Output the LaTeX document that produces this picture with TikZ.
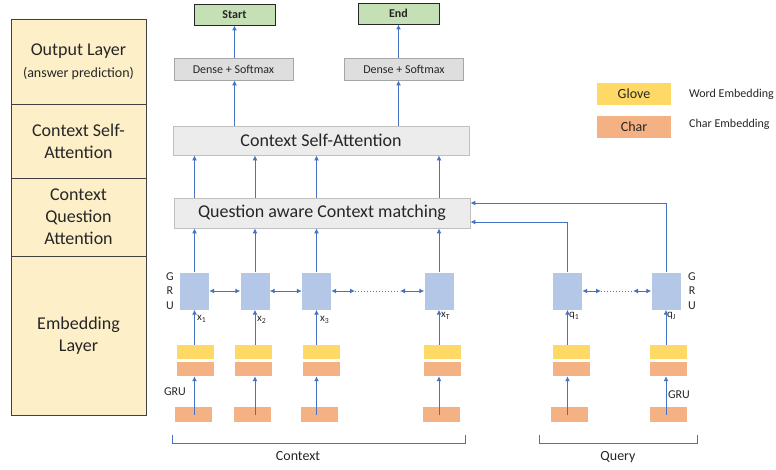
\documentclass[tikz,border=0pt]{standalone}
\usepackage{fontspec}
\setmainfont{Carlito}
\usetikzlibrary{arrows.meta}
\definecolor{layerfill}{RGB}{253,240,200}
\definecolor{layerline}{RGB}{64,64,64}
\definecolor{outfill}{RGB}{197,224,180}
\definecolor{densefill}{RGB}{222,222,222}
\definecolor{denseline}{RGB}{166,166,166}
\definecolor{attfill}{RGB}{236,236,236}
\definecolor{attline}{RGB}{191,191,191}
\definecolor{grufill}{RGB}{180,199,231}
\definecolor{glovefill}{RGB}{255,217,102}
\definecolor{charfill}{RGB}{244,177,131}
\definecolor{flow}{RGB}{68,114,196}
\definecolor{ink}{RGB}{38,38,38}
\begin{document}
\begin{tikzpicture}[x=1pt,y=-1pt,every node/.style={text=ink},
  layer/.style={draw=layerline,line width=0.9pt,fill=layerfill,minimum width=135pt,inner sep=0pt,align=center,font=\fontsize{18}{22}\selectfont},
  outbox/.style={draw=black!85,line width=0.9pt,fill=outfill,minimum width=81pt,minimum height=21pt,inner sep=0pt,font=\bfseries\fontsize{12}{14}\selectfont},
  densebox/.style={draw=denseline,line width=0.8pt,fill=densefill,minimum width=119pt,minimum height=22pt,inner sep=0pt,font=\fontsize{12}{14}\selectfont},
  attbox/.style={draw=attline,line width=0.8pt,fill=attfill,minimum width=296pt,minimum height=30pt,inner sep=0pt,font=\fontsize{18}{22}\selectfont},
  grubox/.style={fill=grufill,minimum width=29pt,minimum height=37pt,inner sep=0pt},
  glovebox/.style={fill=glovefill,minimum width=37pt,minimum height=14pt,inner sep=0pt},
  charbox/.style={fill=charfill,minimum width=37pt,minimum height=14pt,inner sep=0pt},
  flowline/.style={draw=flow,line width=1pt},
  arr/.style={flowline,-{Latex[length=5pt,width=5pt]}},
  biarr/.style={flowline,{Latex[length=5pt,width=5pt]}-{Latex[length=5pt,width=5pt]}},
  tag/.style={font=\fontsize{12}{14.5}\selectfont,inner sep=0pt,align=center},
  sub/.style={font=\fontsize{11}{13}\selectfont,inner sep=0pt,anchor=north west},
  big/.style={font=\fontsize{14}{16}\selectfont,inner sep=0pt}]
\useasboundingbox (0,0) rectangle (776,469);
% layers on the left
\node[layer,minimum height=85pt] (lout) at (78.5,61.5) {Output Layer\\{\fontsize{14}{17}\selectfont(answer prediction)}};
\node[layer,minimum height=74pt] (lself) at (78.5,141) {Context Self-\\Attention};
\node[layer,minimum height=78pt] (lqa) at (78.5,217) {Context\\Question\\Attention};
\node[layer,minimum height=159pt] (lemb) at (78.5,335.5) {Embedding\\Layer};
% output
\node[outbox] (start) at (234.5,14.5) {Start};
\node[outbox] (end) at (398.5,13.5) {End};
\node[densebox] (dense1) at (233.5,69) {Dense + Softmax};
\node[densebox] (dense2) at (404,69) {Dense + Softmax};
\node[attbox,minimum height=29pt] (sa) at (321,140.5) {Context Self-Attention};
\node[attbox] (qa) at (322,213) {Question aware Context matching};
% gru cells
\node[grubox] (gru1) at (194.5,291) {};
\node[grubox] (gru2) at (255,291) {};
\node[grubox] (gru3) at (316.5,291) {};
\node[grubox] (gru4) at (439,291) {};
\node[grubox] (gq1) at (567.5,291) {};
\node[grubox] (gq2) at (666,291) {};
% embeddings
\node[glovebox] (glv1) at (195,352) {};
\node[glovebox] (glv2) at (253.5,352) {};
\node[glovebox] (glv3) at (321,352) {};
\node[glovebox] (glv4) at (442.5,352) {};
\node[glovebox] (glq1) at (571,352) {};
\node[glovebox] (glq2) at (668.5,352) {};
\node[charbox] (chr1) at (195,369) {};
\node[charbox] (chr2) at (253.5,369) {};
\node[charbox] (chr3) at (321,369) {};
\node[charbox] (chr4) at (442.5,369) {};
\node[charbox] (chq1) at (571,369) {};
\node[charbox] (chq2) at (668.5,369) {};
\node[charbox,minimum height=15pt] (tok1) at (193.5,414.5) {};
\node[charbox,minimum height=15pt] (tok2) at (252.5,414.5) {};
\node[charbox,minimum height=15pt] (tok3) at (319.5,414.5) {};
\node[charbox,minimum height=15pt] (tok4) at (441.5,414.5) {};
\node[charbox,minimum height=15pt] (tokq1) at (569.5,414.5) {};
\node[charbox,minimum height=15pt] (tokq2) at (668.5,414.5) {};
% labels
\node[tag] (gl1) at (170,291) {G\\R\\U};
\node[tag] (gl2) at (692,291) {G\\R\\U};
\node[tag] (gc1) at (175,392) {GRU};
\node[tag] (gc2) at (679,395) {GRU};
\node[sub] (x1) at (197,315) {x\textsubscript{1}};
\node[sub] (x2) at (257,316) {x\textsubscript{2}};
\node[sub] (x3) at (320,316) {x\textsubscript{3}};
\node[sub] (xT) at (441,312) {x\textsubscript{T}};
\node[sub] (q1) at (569,312) {q\textsubscript{1}};
\node[sub] (qJ) at (667,312) {q\textsubscript{J}};
% legend
\node[glovebox,big,minimum width=74pt,minimum height=22pt] (lglove) at (634,94) {Glove};
\node[charbox,big,minimum width=74pt,minimum height=22pt] (lchar) at (634,127) {Char};
\node[tag,anchor=west] (lword) at (689,94) {Word Embedding};
\node[tag,anchor=west] (lcemb) at (689,124) {Char Embedding};
% dotted gaps
\coordinate (dc1) at (355,291);
\coordinate (dc2) at (400,291);
\coordinate (dq1) at (601,291);
\coordinate (dq2) at (633,291);
% connectors
\draw[arr] (dense1.north -| start) -- (start.south);
\draw[arr] (dense2.north -| end) -- (end.south);
\draw[arr] (sa.north -| start) -- (dense1.south -| start);
\draw[arr] (sa.north -| end) -- (dense2.south -| end);
\draw[arr] (qa.north -| gru1) -- (sa.south -| gru1);
\draw[arr] (qa.north -| gru2) -- (sa.south -| gru2);
\draw[arr] (qa.north -| gru3) -- (sa.south -| gru3);
\draw[arr] (qa.north -| gru4) -- (sa.south -| gru4);
\draw[arr] (gru1.north) -- (qa.south -| gru1);
\draw[arr] (gru2.north) -- (qa.south -| gru2);
\draw[arr] (gru3.north) -- (qa.south -| gru3);
\draw[arr] (gru4.north) -- (qa.south -| gru4);
\draw[arr] (gq1.north) |- ([yshift=-9pt]qa.east);
\draw[arr] (gq2.north) |- ([yshift=10pt]qa.east);
\draw[biarr] (gru1.east) -- (gru2.west);
\draw[biarr] (gru2.east) -- (gru3.west);
\draw[biarr] (gru3.east) -- (dc1);
\draw[flowline,dotted,line width=1pt] (dc1) -- (dc2);
\draw[biarr] (dc2) -- (gru4.west);
\draw[biarr] (gq1.east) -- (dq1);
\draw[flowline,dotted,line width=1pt] (dq1) -- (dq2);
\draw[biarr] (dq2) -- (gq2.west);
\draw[arr] (glv1.north -| gru1) -- (gru1.south);
\draw[arr] (glv2.north -| gru2) -- (gru2.south);
\draw[arr] (glv3.north -| gru3) -- (gru3.south);
\draw[arr] (glv4.north -| gru4) -- (gru4.south);
\draw[arr] (glq1.north -| gq1) -- (gq1.south);
\draw[arr] (glq2.north -| gq2) -- (gq2.south);
\draw[arr] (tok1.center -| gru1) -- (chr1.south -| gru1);
\draw[arr] (tok2.center -| gru2) -- (chr2.south -| gru2);
\draw[arr] (tok3.center -| gru3) -- (chr3.south -| gru3);
\draw[arr] (tok4.center -| gru4) -- (chr4.south -| gru4);
\draw[arr] (tokq1.center -| gq1) -- (chq1.south -| gq1);
\draw[arr] (tokq2.center -| gq2) -- (chq2.south -| gq2);
% brackets
\draw[flowline,line width=0.9pt] (172,435) -- (172,443) -- (465,443) -- (465,435);
\draw[flowline,line width=0.9pt] (539,435) -- (539,443) -- (697,443) -- (697,435);
\node[big] (ctx) at (298,456) {Context};
\node[big] (qry) at (618,457) {Query};
\end{tikzpicture}
\end{document}
